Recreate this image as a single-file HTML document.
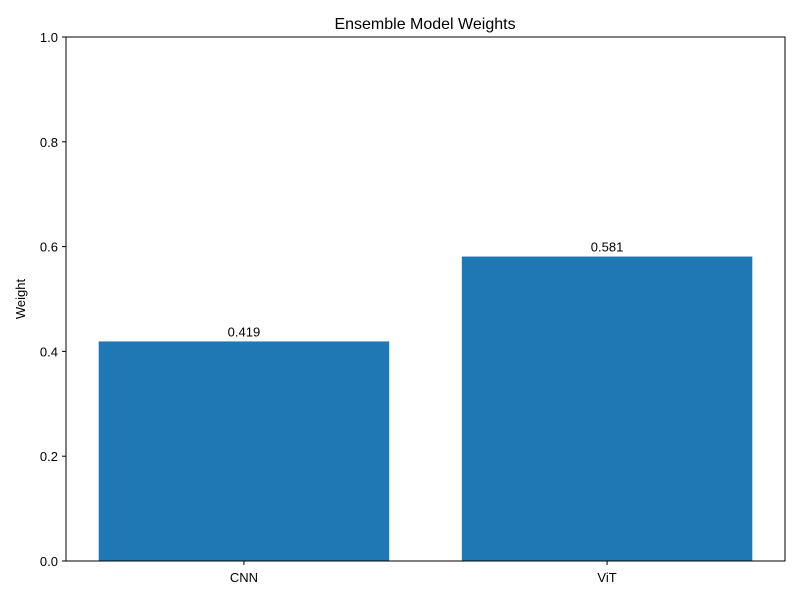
<!DOCTYPE html>
<html><head><meta charset="utf-8"><style>
body{margin:0;background:#fff;}
svg text{font-family:"Liberation Sans","DejaVu Sans",sans-serif;fill:#000;}
</style></head><body>
<svg id="chart" width="800" height="600" xmlns="http://www.w3.org/2000/svg">
<rect width="800" height="600" fill="#fff"/>
<text x="425" y="29" text-anchor="middle" font-size="16">Ensemble Model Weights</text>
<text transform="translate(25,299) rotate(-90)" text-anchor="middle" font-size="13">Weight</text>
<g id="bars"></g>
<g id="axes"></g>
</svg>
<script>
const categories = ["CNN", "ViT"];
const values = [0.419, 0.581];
const valueLabels = ["0.419", "0.581"];
const yTicks = [0, 0.2, 0.4, 0.6, 0.8, 1.0];
const yTickLabels = ["0.0", "0.2", "0.4", "0.6", "0.8", "1.0"];

const L = 66, R = 785, T = 37, B = 561;
const xMin = -0.49, xMax = categories.length - 1 + 0.49;
const xs = v => L + (v - xMin) / (xMax - xMin) * (R - L);
const ys = v => B - v * (B - T);
const NS = "http://www.w3.org/2000/svg";
const bars = document.getElementById("bars"), axes = document.getElementById("axes");
function mk(tag, attrs, parent, text) {
  const e = document.createElementNS(NS, tag);
  for (const k in attrs) e.setAttribute(k, attrs[k]);
  if (text !== undefined) e.textContent = text;
  parent.appendChild(e);
  return e;
}
categories.forEach((c, i) => {
  const x0 = xs(i - 0.4), x1 = xs(i + 0.4);
  const r = mk("rect", {x: x0, y: ys(values[i]), width: x1 - x0, height: ys(0) - ys(values[i]), fill: "#1f77b4"}, bars);
  
  
  const t = mk("text", {x: xs(i), y: ys(values[i]) - 5, "text-anchor": "middle", "font-size": "13"}, bars, valueLabels[i]);
  
  
  mk("line", {x1: xs(i), x2: xs(i), y1: B, y2: B + 4, stroke: "#000", "stroke-width": 1}, axes);
  const xl = mk("text", {x: xs(i), y: B + 21, "text-anchor": "middle", "font-size": "13"}, axes, c);
  
  
});
yTicks.forEach((v, i) => {
  mk("line", {x1: L - 4, x2: L, y1: ys(v), y2: ys(v), stroke: "#000", "stroke-width": 1}, axes);
  const yl = mk("text", {x: L - 8, y: ys(v) + 5, "text-anchor": "end", "font-size": "13"}, axes, yTickLabels[i]);
  
  
});
const frame = mk("rect", {x: L, y: T, width: R - L, height: B - T, fill: "none", stroke: "#000", "stroke-width": 1}, axes);


</script>
</body></html>
